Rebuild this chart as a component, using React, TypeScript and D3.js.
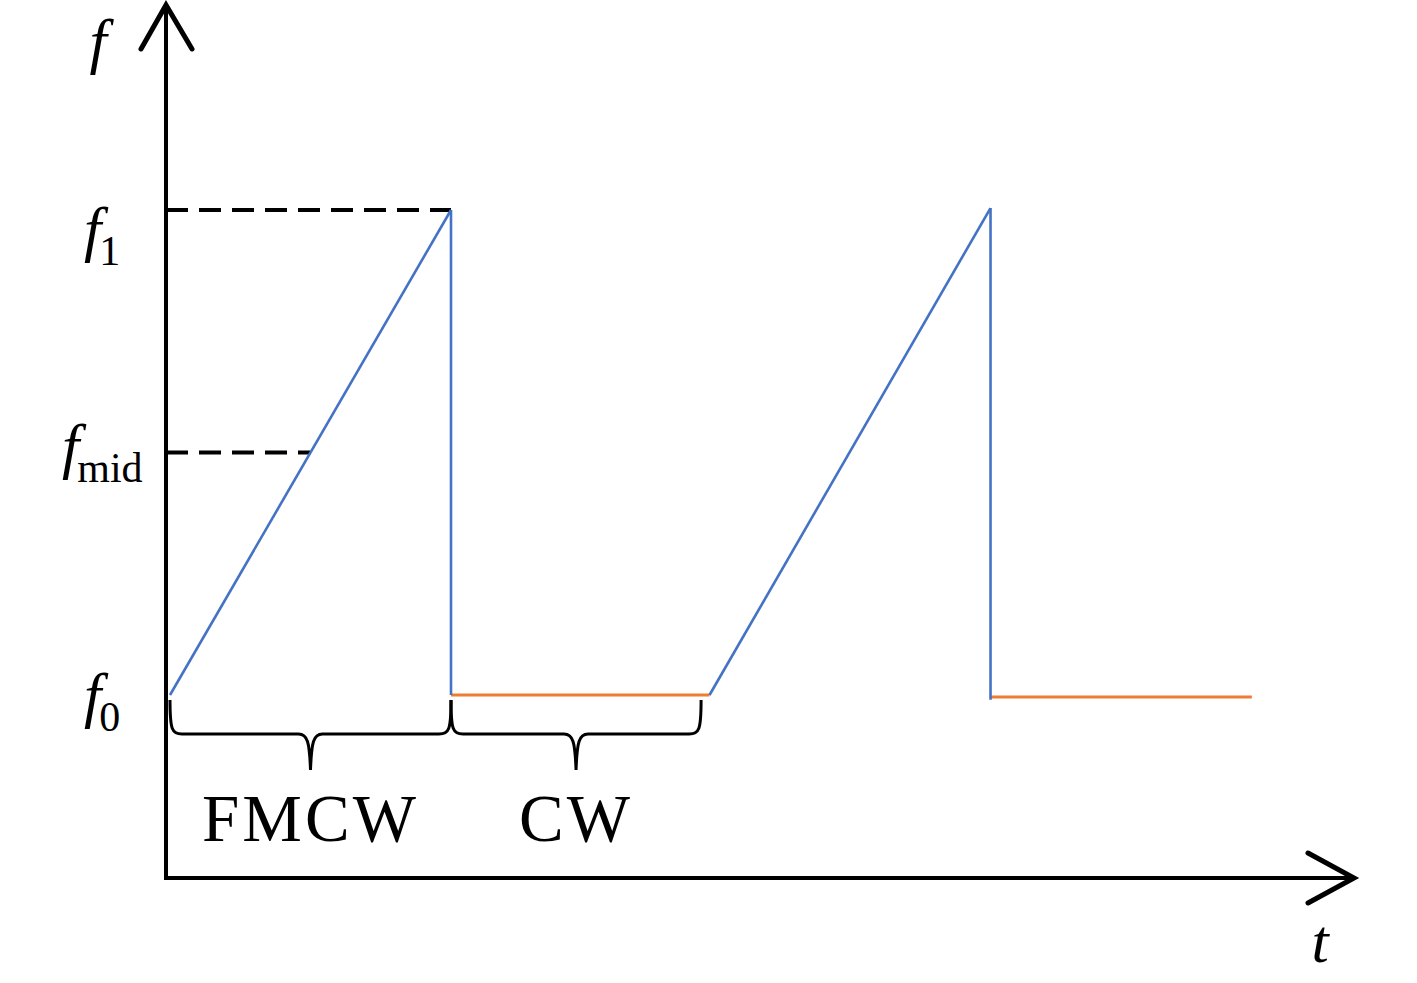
import React from "react";
import * as d3 from "d3";

// Signal segments: time (units of one FMCW sweep) and normalised frequency (f0 = 0, f1 = 1)
const chirpSegments = [
  { t: [0, 1], f: [0, 1] },
  { t: [1, 1], f: [1, 0] },
  { t: [1.92, 2.92], f: [0, 1.004] },
  { t: [2.92, 2.92], f: [1.004, -0.01] },
];
const cwSegments = [
  { t: [1, 1.92], f: [0, 0] },
  { t: [2.92, 3.85], f: [-0.004, -0.004] },
];
const freqTickLabels = [
  { name: "f", sub: "1", f: 1 },
  { name: "f", sub: "mid", f: 0.5 },
  { name: "f", sub: "0", f: 0 },
];
const dashedGuides = [
  { f: 1, tEnd: 1 },
  { f: 0.5, tEnd: 0.5 },
];
const braces = [
  { t0: 0, t1: 1, label: "FMCW" },
  { t0: 1, t1: 1.89, label: "CW" },
];

// layout (pixel offsets of the tick labels relative to their level)
const labelLayout = [
  { x: 84, dy: 40 },
  { x: 62, dy: 14 },
  { x: 84, dy: 21 },
];

const W = 1417;
const H = 983;

export default function App() {
  const x = d3.scaleLinear().domain([0, 1]).range([170, 451]);
  const y = d3.scaleLinear().domain([0, 1]).range([695, 210]);
  const axisX = 166;
  const axisY = 878;
  const axisTop = 5;
  const axisRight = 1354;

  const line = d3
    .line<[number, number]>()
    .x((d) => x(d[0]))
    .y((d) => y(d[1]));

  const seg = (s: { t: number[]; f: number[] }) =>
    line([
      [s.t[0], s.f[0]],
      [s.t[1], s.f[1]],
    ]) as string;

  const bracePath = (t0: number, t1: number) => {
    const x0 = x(t0);
    const x1 = x(t1);
    const top = 700;
    const bot = 734;
    const tip = 770;
    const mid = (x0 + x1) / 2;
    const p = d3.path();
    p.moveTo(x0, top);
    p.bezierCurveTo(x0, top + 30, x0 + 2, bot, x0 + 12, bot);
    p.lineTo(mid - 12, bot);
    p.bezierCurveTo(mid - 3, bot, mid - 1, bot + 8, mid, tip);
    p.moveTo(x1, top);
    p.bezierCurveTo(x1, top + 30, x1 - 2, bot, x1 - 12, bot);
    p.lineTo(mid + 12, bot);
    p.bezierCurveTo(mid + 3, bot, mid + 1, bot + 8, mid, tip);
    return p.toString();
  };

  const serif = "'Liberation Serif', 'DejaVu Serif', serif";

  return (
    <svg
      width={W}
      height={H}
      viewBox={`0 0 ${W} ${H}`}
      style={{ position: "absolute", left: 0, top: 0, background: "#fff" }}
    >
      <rect width={W} height={H} fill="#fff" />
      {/* dashed guides */}
      {dashedGuides.map((g, i) => (
        <line
          key={i}
          x1={axisX}
          x2={x(g.tEnd)}
          y1={y(g.f)}
          y2={y(g.f)}
          stroke="#000"
          strokeWidth={4}
          strokeDasharray="22,11"
        />
      ))}
      {/* axes */}
      <line x1={axisX} x2={axisX} y1={axisY + 2} y2={axisTop} stroke="#000" strokeWidth={4} />
      <line x1={axisX - 2} x2={axisRight} y1={axisY} y2={axisY} stroke="#000" strokeWidth={4} />
      <path
        d={`M${axisX - 25},${axisTop + 44} L${axisX},${axisTop} L${axisX + 26},${axisTop + 44}`}
        fill="none"
        stroke="#000"
        strokeWidth={5}
        strokeLinecap="round"
        strokeLinejoin="miter"
      />
      <path
        d={`M${axisRight - 46},${axisY - 25} L${axisRight},${axisY} L${axisRight - 46},${axisY + 25}`}
        fill="none"
        stroke="#000"
        strokeWidth={5}
        strokeLinecap="round"
      />
      {/* signal */}
      {cwSegments.map((s, i) => (
        <path key={"cw" + i} d={seg(s)} stroke="#ED7D31" strokeWidth={3} fill="none" />
      ))}
      {chirpSegments.map((s, i) => (
        <path key={"ch" + i} d={seg(s)} stroke="#4472C4" strokeWidth={2.6} fill="none" />
      ))}
      {/* braces */}
      {braces.map((b, i) => (
        <g key={"b" + i}>
          <path d={bracePath(b.t0, b.t1)} fill="none" stroke="#000" strokeWidth={3} />
          <text
            x={(x(b.t0) + x(b.t1)) / 2}
            y={841}
            textAnchor="middle"
            fontFamily={serif}
            fontSize={67}
            letterSpacing={3}
            fill="#000"
          >
            {b.label}
          </text>
        </g>
      ))}
      {/* axis labels */}
      <text x={98} y={62} textAnchor="middle" fontFamily={serif} fontStyle="italic" fontSize={62} fill="#000">
        f
      </text>
      <text x={1320} y={962} textAnchor="middle" fontFamily={serif} fontStyle="italic" fontSize={62} fill="#000">
        t
      </text>
      {freqTickLabels.map((l, i) => (
        <text
          key={"fl" + i}
          x={labelLayout[i].x}
          y={y(l.f) + labelLayout[i].dy}
          fontFamily={serif}
          fontSize={62}
          fill="#000"
        >
          <tspan fontStyle="italic">{l.name}</tspan>
          <tspan dx={-2} dy={15} fontSize={42}>
            {l.sub}
          </tspan>
        </text>
      ))}
    </svg>
  );
}
